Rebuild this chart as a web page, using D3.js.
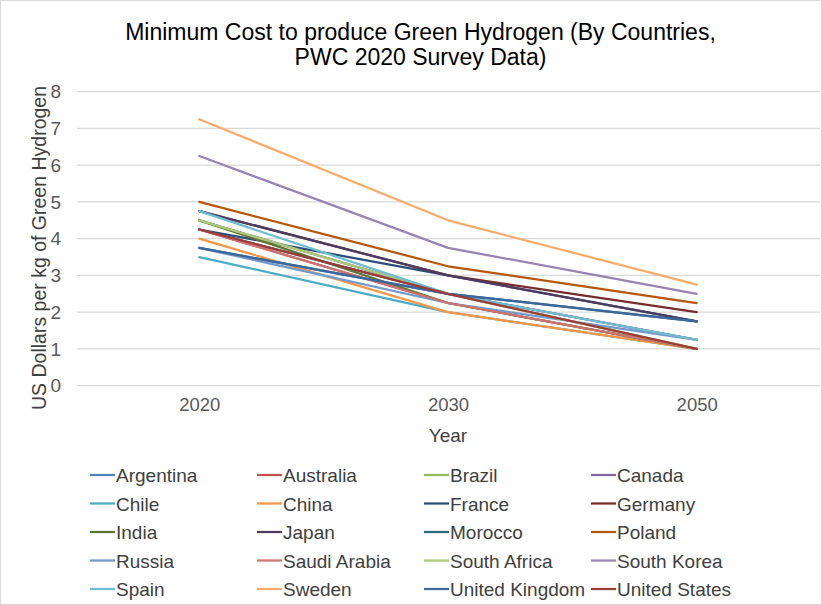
<!DOCTYPE html>
<html>
<head>
<meta charset="utf-8">
<script src="https://cdn.jsdelivr.net/npm/d3@7"></script>
<style>
  html, body { margin: 0; padding: 0; background: #fff; }
  svg { display: block; font-family: "Liberation Sans", Arial, sans-serif; }
</style>
</head>
<body>
<svg id="chart" width="822" height="605"></svg>
<script>
// Survey years (category axis)
const years = ["2020", "2030", "2050"];
// Y axis tick values
const yTicks = [0, 1, 2, 3, 4, 5, 6, 7, 8];

// Country series, in legend order
const countries = [
  "Argentina", "Australia", "Brazil", "Canada", "Chile", "China",
  "France", "Germany", "India", "Japan", "Morocco", "Poland",
  "Russia", "Saudi Arabia", "South Africa", "South Korea", "Spain", "Sweden",
  "United Kingdom", "United States"
];

// Minimum cost (US$ per kg) for 2020, 2030, 2050
const argentina     = [3.75, 2.5, 1.25];
const australia     = [4.25, 2.25, 1.0];
const brazil        = [4.5, 2.5, 1.0];
const canada        = [4.5, 2.5, 1.25];
const chile         = [3.5, 2.0, 1.0];
const china         = [4.0, 2.0, 1.0];
const france        = [4.25, 3.0, 1.75];
const germany       = [4.75, 3.0, 2.0];
const india         = [4.5, 2.25, 1.0];
const japan         = [4.75, 3.0, 1.75];
const morocco       = [4.25, 2.5, 1.75];
const poland        = [5.0, 3.25, 2.25];
const russia        = [3.75, 2.25, 1.25];
const saudiArabia   = [4.25, 2.25, 1.0];
const southAfrica   = [4.5, 2.5, 1.0];
const southKorea    = [6.25, 3.75, 2.5];
const spain         = [4.75, 2.5, 1.25];
const sweden        = [7.25, 4.5, 2.75];
const unitedKingdom = [3.75, 2.5, 1.75];
const unitedStates  = [4.25, 2.5, 1.0];

const seriesValues = [
  argentina, australia, brazil, canada, chile, china,
  france, germany, india, japan, morocco, poland,
  russia, saudiArabia, southAfrica, southKorea, spain, sweden,
  unitedKingdom, unitedStates
];

// Office-style line palette (base, darker, lighter, dark variants)
const colors = [
  "#4F81BD", "#C0504D", "#9BBB59", "#8064A2", "#4BACC6", "#F79646",
  "#2C4D75", "#772C2A", "#5F7530", "#4D3B62", "#276A7C", "#B65708",
  "#729ACA", "#CD7371", "#AFC97A", "#9983B5", "#6FBDD1", "#F9AB6B",
  "#3A679C", "#9C3B38"
];

const series = countries.map((name, i) => ({ name, values: seriesValues[i], color: colors[i] }));

const svg = d3.select("#chart");

// Chart border
svg.append("rect")
  .attr("x", 0.5).attr("y", 0.5)
  .attr("width", 821).attr("height", 604)
  .attr("fill", "#fff").attr("stroke", "#D9D9D9");

const x = d3.scalePoint().domain(years).range([75, 821]).padding(0.5);
const y = d3.scaleLinear().domain([0, 8]).range([385.7, 91.7]);

// Title
const title = svg.append("text")
  .attr("text-anchor", "middle")
  .attr("font-size", 23).attr("fill", "#000");
title.append("tspan").attr("x", 420.5).attr("y", 40)
  .text("Minimum Cost to produce Green Hydrogen (By Countries,");
title.append("tspan").attr("x", 420.5).attr("y", 65)
  .text("PWC 2020 Survey Data)");

// Horizontal gridlines
svg.append("g")
  .selectAll("line")
  .data(yTicks)
  .join("line")
  .attr("x1", 77).attr("x2", 820)
  .attr("y1", d => y(d)).attr("y2", d => y(d))
  .attr("stroke", "#D9D9D9").attr("stroke-width", 1.3);

// Y axis labels
const yAxis = svg.append("g")
  .attr("transform", "translate(61,0)")
  .call(d3.axisLeft(y).tickValues(yTicks).tickSize(0).tickPadding(0).tickFormat(d3.format("d")));
yAxis.select(".domain").remove();
yAxis.selectAll("text")
  .attr("font-size", 19).attr("fill", "#595959")
  .attr("font-family", "Liberation Sans, Arial, sans-serif");

// X axis labels
const xAxis = svg.append("g")
  .attr("transform", "translate(0,398)")
  .call(d3.axisBottom(x).tickSize(0).tickPadding(0));
xAxis.select(".domain").remove();
xAxis.selectAll("text")
  .attr("font-size", 18.5).attr("fill", "#595959")
  .attr("font-family", "Liberation Sans, Arial, sans-serif");

// Axis titles
svg.append("text")
  .attr("x", 448).attr("y", 442)
  .attr("text-anchor", "middle")
  .attr("font-size", 19).attr("fill", "#404040")
  .text("Year");

svg.append("text")
  .attr("transform", "translate(46,248) rotate(-90)")
  .attr("text-anchor", "middle")
  .attr("font-size", 19.5).attr("fill", "#404040")
  .text("US Dollars per kg of Green Hydrogen");

// Lines
const line = d3.line()
  .x((d, i) => x(years[i]))
  .y(d => y(d));

svg.append("g")
  .selectAll("path")
  .data(series)
  .join("path")
  .attr("d", d => line(d.values))
  .attr("fill", "none")
  .attr("stroke", d => d.color)
  .attr("stroke-width", 2.25)
  .attr("stroke-linejoin", "round")
  .attr("stroke-linecap", "round");

// Legend: 4 columns x 5 rows
const colX = [90, 257, 424, 591];
const rowY = [475, 503.5, 532, 560.5, 589];
const legend = svg.append("g")
  .selectAll("g")
  .data(series)
  .join("g")
  .attr("transform", (d, i) => `translate(${colX[i % 4]},${rowY[Math.floor(i / 4)]})`);
legend.append("line")
  .attr("x1", 0).attr("x2", 25)
  .attr("y1", 0).attr("y2", 0)
  .attr("stroke", d => d.color).attr("stroke-width", 2.25);
legend.append("text")
  .attr("x", 26).attr("y", 7)
  .attr("font-size", 19).attr("fill", "#404040")
  .text(d => d.name);
</script>
</body>
</html>
